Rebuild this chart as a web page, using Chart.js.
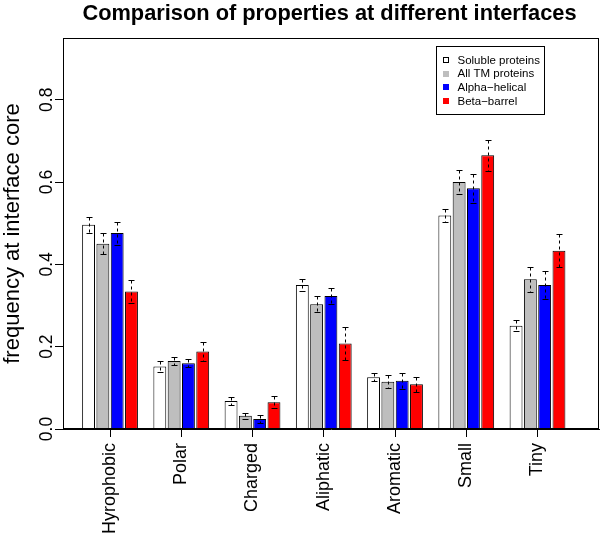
<!DOCTYPE html>
<html><head><meta charset="utf-8">
<script src="https://cdn.jsdelivr.net/npm/chart.js@4"></script>
<style>html,body{margin:0;padding:0;background:#fff;}</style>
</head><body>
<canvas id="c" width="600" height="541"></canvas>
<script>
const categories = ['Hyrophobic','Polar','Charged','Aliphatic','Aromatic','Small','Tiny'];
const seriesNames = ['Soluble proteins','All TM proteins','Alpha\u2212helical','Beta\u2212barrel'];
const soluble      = [0.496,0.152,0.068,0.350,0.126,0.519,0.251];
const allTM        = [0.450,0.165,0.032,0.303,0.115,0.600,0.364];
const alphaHelical = [0.476,0.160,0.024,0.323,0.117,0.585,0.350];
const betaBarrel   = [0.334,0.188,0.065,0.208,0.109,0.665,0.433];
const solubleErr   = [0.019,0.013,0.010,0.015,0.010,0.016,0.013];
const allTMErr     = [0.025,0.009,0.007,0.019,0.016,0.030,0.030];
const alphaErr     = [0.028,0.010,0.009,0.019,0.020,0.035,0.034];
const betaErr      = [0.029,0.023,0.014,0.041,0.018,0.038,0.040];
const yTicks = [0,0.2,0.4,0.6,0.8];
const chartTitle = 'Comparison of properties at different interfaces';
const yLabel = 'frequency at interface core';

const FONT = '"Liberation Sans", Arial, Helvetica, sans-serif';
Chart.defaults.font.family = FONT;
Chart.defaults.color = '#000';

const colors = ['#FFFFFF','#BEBEBE','#0000FF','#FF0000'];
const values = [soluble, allTM, alphaHelical, betaBarrel];
const errs = [solubleErr, allTMErr, alphaErr, betaErr];

const datasets = seriesNames.map((name,k)=>({
  label: name,
  data: values[k].map((v,i)=>({x:i, y:v})),
  err: errs[k],
  backgroundColor: colors[k],
  borderColor: '#000',
  borderWidth: 1,
  borderSkipped: 'start',
  categoryPercentage: 0.803,
  barPercentage: 0.9
}));

const errorBars = {
  id: 'errorBars',
  afterDatasetsDraw(chart){
    const ctx = chart.ctx, ys = chart.scales.y;
    chart.data.datasets.forEach((ds,k)=>{
      const meta = chart.getDatasetMeta(k);
      meta.data.forEach((bar,i)=>{
        const v = ds.data[i].y, e = ds.err[i];
        const x = Math.round(bar.x) + 0.5;
        const yt = Math.round(ys.getPixelForValue(v+e)) + 0.5;
        const yb = Math.round(ys.getPixelForValue(v-e)) + 0.5;
        ctx.save();
        ctx.strokeStyle = '#000'; ctx.lineWidth = 1;
        ctx.setLineDash([3,3]);
        ctx.beginPath(); ctx.moveTo(x,yt); ctx.lineTo(x,yb); ctx.stroke();
        ctx.setLineDash([]);
        ctx.beginPath();
        ctx.moveTo(x-3,yt); ctx.lineTo(x+3,yt);
        ctx.moveTo(x-3,yb); ctx.lineTo(x+3,yb);
        ctx.stroke();
        ctx.restore();
      });
    });
  }
};

const frame = {
  id: 'frame',
  afterDraw(chart){
    const {ctx, chartArea:a} = chart;
    ctx.save();
    ctx.strokeStyle = '#000'; ctx.lineWidth = 1;
    ctx.strokeRect(Math.round(a.left)+0.5, Math.round(a.top)+0.5, Math.round(a.right-a.left)-1, Math.round(a.bottom-a.top)-1);
    // title
    ctx.fillStyle = '#000';
    ctx.font = 'bold 21.8px ' + FONT;
    ctx.textAlign = 'center'; ctx.textBaseline = 'alphabetic';
    ctx.fillText(chartTitle, 329.5, 20);
    // legend
    const lx = 436.5, ly = 46.5, lw = 108, lh = 68;
    ctx.strokeRect(lx, ly, lw, lh);
    ctx.font = '11.5px ' + FONT;
    ctx.textAlign = 'left'; ctx.textBaseline = 'middle';
    chart.data.datasets.forEach((ds,k)=>{
      const ry = 60 + k*13.7;
      const mx = 446;
      if (k === 0) {
        ctx.strokeRect(Math.round(mx-3)+0.5, Math.round(ry-3)+0.5, 5, 5);
      } else {
        ctx.fillStyle = ds.backgroundColor;
        ctx.fillRect(Math.round(mx-3), Math.round(ry-3), 6, 6);
      }
      ctx.fillStyle = '#000';
      ctx.fillText(ds.label, 457.5, ry+0.5);
    });
    ctx.restore();
  }
};

new Chart(document.getElementById('c'), {
  type: 'bar',
  data: { datasets },
  options: {
    responsive: false,
    animation: false,
    events: [],
    layout: { padding: { left: 0, right: 1, top: 38, bottom: 0 } },
    plugins: { legend: { display: false }, title: { display: false }, tooltip: { enabled: false } },
    scales: {
      x: {
        type: 'linear', min: -0.66, max: 6.863, offset: false,
        grid: { display: true, offset: false, drawOnChartArea: false, drawTicks: true, tickLength: 8, color: '#000' },
        border: { display: true, color: '#000' },
        afterBuildTicks: s => { s.ticks = categories.map((c,i)=>({value:i})); },
        ticks: { autoSkip: false, minRotation: 90, maxRotation: 90, padding: 6, color: '#000',
                 font: { size: 18 }, callback: v => categories[v] },
        afterFit: s => { s.height = 112; }
      },
      y: {
        min: 0, max: 0.95,
        afterBuildTicks: s => { s.ticks = yTicks.map(v=>({value:v})); },
        grid: { display: true, drawOnChartArea: false, drawTicks: true, tickLength: 8, color: '#000' },
        border: { display: true, color: '#000' },
        ticks: { minRotation: 90, maxRotation: 90, crossAlign: 'center', padding: -4, color: '#000',
                 font: { size: 17.5 }, callback: v => v.toFixed(1) },
        title: { display: true, text: yLabel, font: { size: 22 }, color: '#000', padding: { top: 0, bottom: 0 } },
        afterFit: s => { s.width = 63; }
      }
    }
  },
  plugins: [errorBars, frame]
});
</script>
</body></html>
